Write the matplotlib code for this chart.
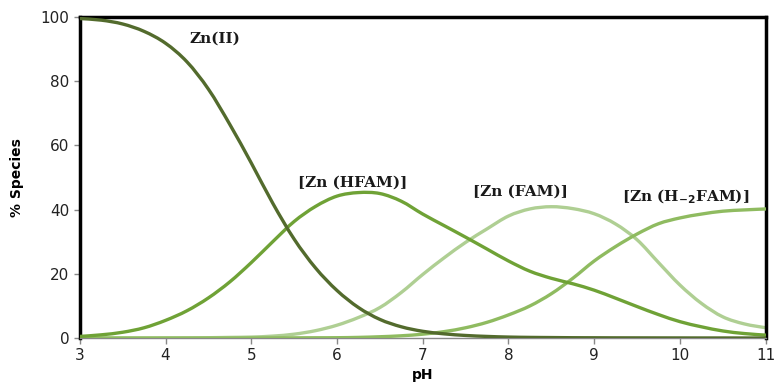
import matplotlib
matplotlib.use("Agg")
import matplotlib.pyplot as plt
from matplotlib.path import Path
from matplotlib.patches import PathPatch

ph = [3.0, 3.25, 3.5, 3.75, 4.0, 4.25, 4.5, 4.75, 5.0, 5.25, 5.5, 5.75, 6.0, 6.25, 6.5, 6.75,
      7.0, 7.25, 7.5, 7.75, 8.0, 8.25, 8.5, 8.75, 9.0, 9.25, 9.5, 9.75, 10.0, 10.25, 10.5, 10.75, 11.0]

zn = [99.5, 99.0, 97.8, 95.5, 91.8, 86.0, 77.5, 66.5, 54.5, 42.0, 30.8, 21.8, 14.8, 9.5, 5.8, 3.5,
      2.1, 1.3, 0.8, 0.5, 0.3, 0.2, 0.15, 0.1, 0.08, 0.06, 0.05, 0.04, 0.03, 0.02, 0.02, 0.01, 0.01]

hfam = [0.5, 1.0, 1.8, 3.2, 5.5, 8.5, 12.5, 17.5, 23.5, 30.0, 36.3, 41.0, 44.2, 45.3, 45.0, 42.6,
        38.6, 35.0, 31.4, 27.7, 24.0, 20.8, 18.6, 16.9, 14.9, 12.4, 9.8, 7.3, 5.1, 3.5, 2.2, 1.4, 0.9]

fam = [0.0, 0.0, 0.0, 0.0, 0.02, 0.05, 0.1, 0.2, 0.3, 0.6, 1.2, 2.3, 4.0, 6.4, 9.5, 14.2,
       19.8, 25.0, 29.8, 34.0, 38.0, 40.2, 40.9, 40.3, 38.7, 35.5, 30.6, 23.5, 16.5, 10.8, 6.6, 4.4, 3.2]

h2fam = [0.0, 0.0, 0.0, 0.0, 0.0, 0.0, 0.0, 0.0, 0.02, 0.04, 0.06, 0.08, 0.1, 0.2, 0.4, 0.7,
         1.2, 2.0, 3.2, 4.9, 7.2, 10.0, 13.8, 18.6, 24.0, 28.5, 32.4, 35.6, 37.4, 38.6, 39.5, 39.9, 40.2]

labels = ["Zn(II)", "[Zn (HFAM)]", "[Zn (FAM)]", r"[Zn (H$_{\mathbf{-2}}$FAM)]"]
label_pos = [(4.58, 93.3), (6.18, 48.3), (8.14, 45.5), (10.07, 43.9)]

xticks = [3, 4, 5, 6, 7, 8, 9, 10, 11]
yticks = [0, 20, 40, 60, 80, 100]


def smooth_line(ax, xs, ys, **kw):
    """Draw a smoothed (Excel-like) line through the points using cubic Bezier segments."""
    n = len(xs)
    verts = [(xs[0], ys[0])]
    codes = [Path.MOVETO]
    t = 1.0 / 6.0
    for i in range(n - 1):
        x0, y0 = (xs[i - 1], ys[i - 1]) if i > 0 else (xs[i], ys[i])
        x1, y1 = xs[i], ys[i]
        x2, y2 = xs[i + 1], ys[i + 1]
        x3, y3 = (xs[i + 2], ys[i + 2]) if i + 2 < n else (xs[i + 1], ys[i + 1])
        c1 = (x1 + (x2 - x0) * t, y1 + (y2 - y0) * t)
        c2 = (x2 - (x3 - x1) * t, y2 - (y3 - y1) * t)
        verts += [c1, c2, (x2, y2)]
        codes += [Path.CURVE4, Path.CURVE4, Path.CURVE4]
    ax.add_patch(PathPatch(Path(verts, codes), fill=False, capstyle="round",
                           joinstyle="round", **kw))


fig = plt.figure(figsize=(7.75, 3.85), dpi=100)
ax = fig.add_axes([0.103, 0.122, 0.885, 0.834])

smooth_line(ax, ph, fam, edgecolor="#afcf93", lw=2.4, zorder=2)
smooth_line(ax, ph, h2fam, edgecolor="#8fbb60", lw=2.4, zorder=3)
smooth_line(ax, ph, hfam, edgecolor="#6fa236", lw=2.4, zorder=4)
smooth_line(ax, ph, zn, edgecolor="#536b2d", lw=2.4, zorder=5)

for t, (x, y) in zip(labels, label_pos):
    ax.text(x, y, t, ha="center", va="center", fontsize=11, fontweight="bold",
            family="DejaVu Serif", color="#1a1a1a")

ax.set_xlim(3, 11)
ax.set_ylim(0, 100)
ax.set_xticks(xticks)
ax.set_yticks(yticks)
ax.tick_params(axis="both", labelsize=11, direction="out", length=4, width=1,
               colors="#888888", labelcolor="#222222")

for s in ["left", "top", "right"]:
    ax.spines[s].set_linewidth(2.5)
    ax.spines[s].set_color("black")
ax.spines["bottom"].set_linewidth(1.0)
ax.spines["bottom"].set_color("#888888")

ax.set_xlabel("pH", fontsize=10, fontweight="bold", labelpad=3)
ax.set_ylabel("% Species", fontsize=10, fontweight="bold", labelpad=12)

fig.savefig("out.png", dpi=100)
